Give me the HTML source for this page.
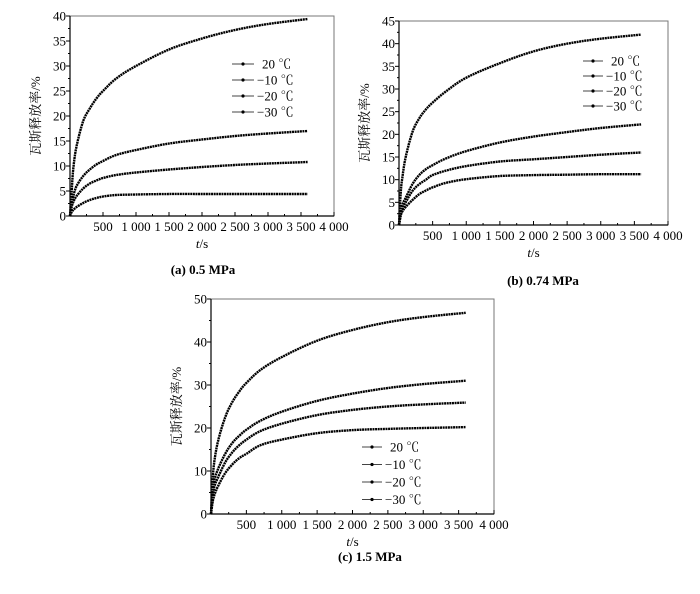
<!DOCTYPE html>
<html><head><meta charset="utf-8"><style>
body{margin:0;background:#fff;}
svg{display:block;font-family:"Liberation Serif","Noto Serif CJK SC",serif;}
</style></head><body>
<svg id="fig" width="700" height="594" viewBox="0 0 700 594"></svg>
<script>
const times=[0,25,50,100,200,300,400,500,700,1000,1500,2000,2500,3000,3600];
const seriesNames=["20 ℃","−10 ℃","−20 ℃","−30 ℃"];
const xTicks=[500,1000,1500,2000,2500,3000,3500,4000];
const xTickLabels=["500","1 000","1 500","2 000","2 500","3 000","3 500","4 000"];
const aS20=[0,5,9.5,14,19,21.5,23.5,25,27.5,30,33.3,35.5,37.2,38.4,39.4];
const aS10=[0,2.5,4,6,8,9.3,10.3,11,12.2,13.2,14.5,15.3,16,16.5,17];
const aS20n=[0,1.8,2.8,4,5.5,6.5,7.1,7.6,8.2,8.7,9.3,9.8,10.2,10.5,10.8];
const aS30=[0,0.8,1.2,1.8,2.6,3.2,3.6,3.9,4.2,4.3,4.4,4.4,4.4,4.4,4.4];
const bS20=[0,7,10.5,15,20.5,23.5,25.5,27,29.5,32.5,35.7,38.3,40,41.1,42];
const bS10=[0,2.7,4.5,6,9,11,12.3,13.2,14.7,16.3,18.2,19.5,20.5,21.4,22.2];
const bS20n=[0,2.3,3.5,5,7.5,9,10,11,12,13,14,14.5,15,15.5,16];
const bS30=[0,2,3,4,5.5,6.8,7.6,8.3,9.3,10.1,10.8,11,11.1,11.2,11.2];
const cS20=[0,8.5,12.5,17,22.5,26,28.5,30.5,33.5,36.5,40.3,42.8,44.6,45.8,46.8];
const cS10=[0,5,8,10.5,14,16.5,18.2,19.6,21.7,23.8,26.3,28,29.3,30.2,31];
const cS20n=[0,4,6.5,8.5,12,14.3,16,17.3,19.3,21,23,24.2,25,25.5,25.9];
const cS30=[0,3,4.5,6.5,9.5,11.5,13,14,16,17.3,18.8,19.5,19.8,20,20.2];
const aYTicks=[0,5,10,15,20,25,30,35,40];
const bYTicks=[0,5,10,15,20,25,30,35,40,45];
const cYTicks=[0,10,20,30,40,50];

const NS="http://www.w3.org/2000/svg";
const svg=document.getElementById('fig');
function mk(tag,attrs,parent){const e=document.createElementNS(NS,tag);for(const k in attrs)e.setAttribute(k,attrs[k]);(parent||svg).appendChild(e);return e;}

function smoothPath(pts){
  let d='M'+pts[0][0].toFixed(1)+' '+pts[0][1].toFixed(1);
  for(let i=0;i<pts.length-1;i++){
    const p0=pts[Math.max(0,i-1)],p1=pts[i],p2=pts[i+1],p3=pts[Math.min(pts.length-1,i+2)];
    const c1=[p1[0]+(p2[0]-p0[0])/6,p1[1]+(p2[1]-p0[1])/6];
    const c2=[p2[0]-(p3[0]-p1[0])/6,p2[1]-(p3[1]-p1[1])/6];
    d+=` C${c1[0].toFixed(1)} ${c1[1].toFixed(1)} ${c2[0].toFixed(1)} ${c2[1].toFixed(1)} ${p2[0].toFixed(1)} ${p2[1].toFixed(1)}`;
  }
  return d;
}

function panel(id,box,ymax,yTicks,yMinor,series,leg,cap){
  const g=mk('g',{});
  
  
  const [x0,x1,yt,yb]=box;
  const sx=v=>x0+(x1-x0)*v/4000, sy=v=>yb-(yb-yt)*v/ymax;
  const frame=mk('rect',{x:x0,y:yt,width:x1-x0,height:yb-yt,fill:'none',stroke:'#777','stroke-width':1},g);
  
  
  mk('line',{x1:x0,y1:yt,x2:x0,y2:yb,stroke:'#000','stroke-width':1.2},g);
  mk('line',{x1:x0,y1:yb,x2:x1,y2:yb,stroke:'#000','stroke-width':1.2},g);
  for(let v=0;v<=ymax+1e-9;v+=yMinor){const y=sy(v);mk('line',{x1:x0-(yTicks.includes(v)?4:2),y1:y,x2:x0,y2:y,stroke:'#000'},g);}
  yTicks.forEach(v=>{const t=mk('text',{x:x0-4,y:sy(v)+4.5,'text-anchor':'end','font-size':13},g);t.textContent=v;
    
    });
  for(let v=250;v<=4000;v+=250){const x=sx(v);mk('line',{x1:x,y1:yb,x2:x,y2:yb-(v%500==0?4:2),stroke:'#000'},g);}
  xTicks.forEach((v,i)=>{const t=mk('text',{x:sx(v),y:yb+15,'text-anchor':'middle','font-size':13},g);t.textContent=xTickLabels[i];
    
    });
  const xt=mk('text',{x:(x0+x1)/2,y:yb+32,'text-anchor':'middle','font-size':13},g);
  xt.innerHTML='<tspan font-style="italic">t</tspan>/s';
  
  
  const yl=x0-30, ym=(yt+yb)/2;
  const ytl=mk('text',{x:yl,y:ym,'text-anchor':'middle','font-size':13,transform:`rotate(-90 ${yl} ${ym})`},g);
  ytl.textContent='瓦斯释放率/%';
  
  
  series.forEach((s,si)=>{
    const pts=s.map((v,i)=>[sx(times[i]),sy(v)]);
    const p=mk('path',{d:smoothPath(pts),fill:'none',stroke:'#000','stroke-width':2.4,'stroke-dasharray':'2 0.6'},g);
    
    
  });
  const [lx,ly,lw,ldy]=leg;
  seriesNames.forEach((n,i)=>{
    const y=ly+i*ldy;
    mk('line',{x1:lx,y1:y,x2:lx+lw,y2:y,stroke:'#444','stroke-width':1},g);
    mk('circle',{cx:lx+lw/2,cy:y,r:1.6,fill:'#000'},g);
    const t=mk('text',{x:lx+lw+3+(i==0?5:0),y:y+4.5,'font-size':13},g);t.textContent=n;
    
    
  });
  const c=mk('text',{x:cap[0],y:cap[1],'text-anchor':'middle','font-size':13,'font-weight':'bold'},g);
  c.textContent=cap[2];
  
  
}
panel('a',[70,334,16,216],40,aYTicks,2.5,[aS20,aS10,aS20n,aS30],[232,64,22,16],[203,274,'(a) 0.5 MPa']);
panel('b',[399,668,21,225],45,bYTicks,2.5,[bS20,bS10,bS20n,bS30],[583,61,20,15],[543,285,'(b) 0.74 MPa']);
panel('c',[211,494,299,514],50,cYTicks,5,[cS20,cS10,cS20n,cS30],[362,447,20,17.5],[370,561,'(c) 1.5 MPa']);
</script>
</body></html>
